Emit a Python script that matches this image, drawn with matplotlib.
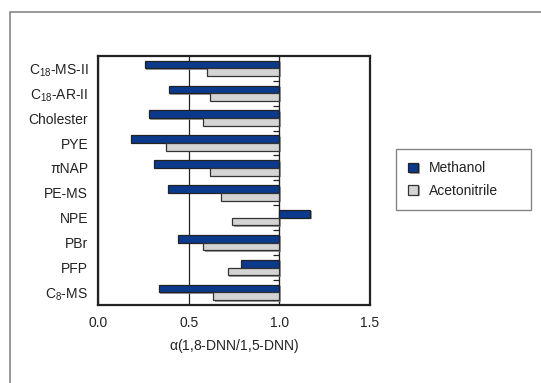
import numpy as np
import matplotlib
matplotlib.use("Agg")
from matplotlib import pyplot as plt
from matplotlib import patheffects as pe
from matplotlib.patches import Rectangle
from matplotlib.ticker import FixedLocator, NullFormatter

plt.rcParams['font.family'] = ['Liberation Sans', 'DejaVu Sans']
plt.rcParams['mathtext.fontset'] = 'custom'
plt.rcParams['mathtext.rm'] = 'Liberation Sans'
plt.rcParams['mathtext.it'] = 'Liberation Sans:italic'

columns = ['C$_{18}$-MS-II', 'C$_{18}$-AR-II', 'Cholester', 'PYE', 'πNAP',
           'PE-MS', 'NPE', 'PBr', 'PFP', 'C$_{8}$-MS']
methanol = [0.26, 0.39, 0.28, 0.18, 0.31, 0.385, 1.17, 0.44, 0.79, 0.335]
acetonitrile = [0.60, 0.62, 0.58, 0.375, 0.62, 0.68, 0.74, 0.58, 0.715, 0.635]
series_names = ['Methanol', 'Acetonitrile']
x_ticks = [0.0, 0.5, 1.0, 1.5]
base = 1.0

fs = 10
fig = plt.figure(figsize=(5.41, 3.83), dpi=100)
ax = fig.add_axes([0.181, 0.204, 0.503, 0.650])

y = np.arange(len(columns))
h = 0.31
shadow = [pe.SimplePatchShadow(offset=(1, -1), shadow_rgbFace='#888888', alpha=0.8), pe.Normal()]
b1 = ax.barh(y - h / 2, np.array(methanol) - base, height=h, left=base,
             color='#0b3a8c', edgecolor='#222222', linewidth=0.9, label=series_names[0], zorder=3)
b2 = ax.barh(y + h / 2, np.array(acetonitrile) - base, height=h, left=base,
             color='#d4d4d4', edgecolor='#333333', linewidth=0.9, label=series_names[1], zorder=3)
for p in list(b1) + list(b2):
    p.set_path_effects(shadow)

ax.set_xlim(0, 1.5)
ax.set_ylim(len(columns) - 0.5, -0.5)
ax.set_xticks(x_ticks)
ax.set_xticklabels(['%.1f' % t for t in x_ticks])
ax.set_yticks(y)
ax.set_yticklabels(columns)
ax.tick_params(axis='both', length=0, labelsize=fs, colors='#222222')
ax.tick_params(axis='x', pad=8)
ax.tick_params(axis='y', pad=7)
ax.xaxis.grid(True, color='#222222', linewidth=0.9, zorder=1)
for s in ax.spines.values():
    s.set_linewidth(1.6)
    s.set_color('#222222')

# value axis crossing at 1.0 with category boundary ticks
sec = ax.secondary_yaxis(base / 1.5)
sec.set_yticks([])
sec.yaxis.set_minor_locator(FixedLocator(np.arange(len(columns) - 1) + 0.5))
sec.yaxis.set_minor_formatter(NullFormatter())
sec.tick_params(which='minor', direction='in', length=4, width=0.9, color='#222222')
sec.spines['left'].set_linewidth(1.0)
sec.spines['left'].set_color('#222222')

ax.set_xlabel(r'α($\mathit{1{,}8}$-DNN/$\mathit{1{,}5}$-DNN)', fontsize=fs,
              color='#222222', labelpad=5)

leg = ax.legend(loc='center left', bbox_to_anchor=(389 / 541, 1 - 211 / 383, 149 / 541, 63 / 383),
                bbox_transform=fig.transFigure, mode='expand', fontsize=fs,
                frameon=True, fancybox=False, edgecolor='#666666',
                handlelength=0.7, handleheight=0.7, handletextpad=0.8,
                borderpad=0.9, labelspacing=0.6)
leg.get_frame().set_linewidth(1.0)
for t in leg.get_texts():
    t.set_color('#222222')

fig.patches.append(Rectangle((10 / 541, -0.1), 1.2, 1.1 - 12 / 383,
                             transform=fig.transFigure, fill=False,
                             edgecolor='#888888', linewidth=1.2))

fig.savefig('out.png', dpi=100)
